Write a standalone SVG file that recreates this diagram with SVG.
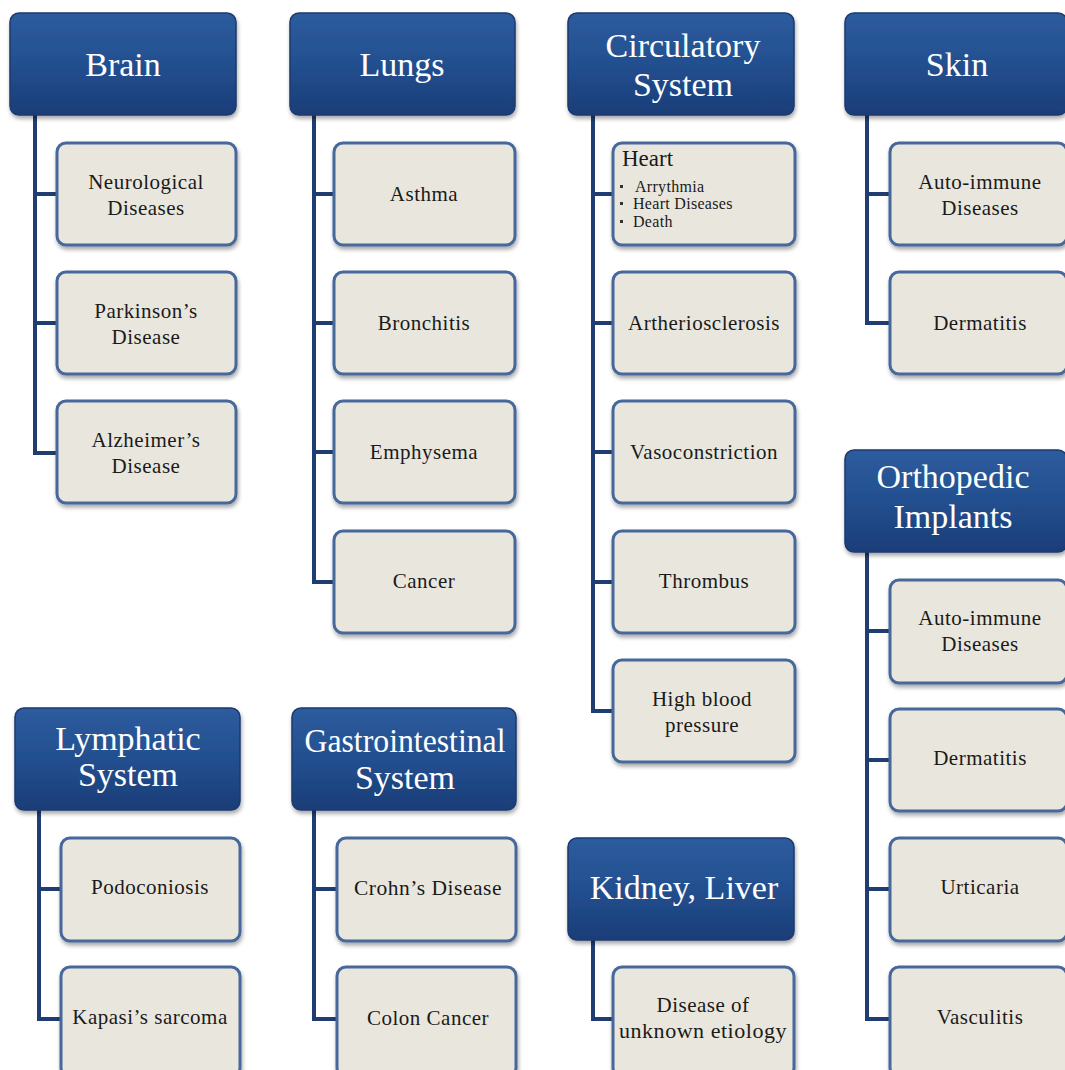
<svg xmlns="http://www.w3.org/2000/svg" width="1065" height="1070" viewBox="0 0 1065 1070">
<defs>
<linearGradient id="hg" x1="0" y1="0" x2="0" y2="1">
<stop offset="0" stop-color="#2d5c9e"/>
<stop offset="0.5" stop-color="#234f8f"/>
<stop offset="1" stop-color="#1a3d78"/>
</linearGradient>
<filter id="sh" x="-10%" y="-10%" width="125%" height="130%">
<feGaussianBlur in="SourceAlpha" stdDeviation="2"/>
<feOffset dx="1" dy="3" result="b"/>
<feComponentTransfer><feFuncA type="linear" slope="0.35"/></feComponentTransfer>
<feMerge><feMergeNode/><feMergeNode in="SourceGraphic"/></feMerge>
</filter>
</defs>
<style>
.h{fill:url(#hg);stroke:#1b3a6e;stroke-width:1.5;filter:url(#sh)}
.c{fill:#e9e7dd;stroke:#46679a;stroke-width:3;filter:url(#sh)}
.ht{font-family:"Liberation Serif",serif;font-size:34px;fill:#ffffff;text-anchor:middle}
.ct{font-family:"Liberation Serif",serif;font-size:21px;letter-spacing:0.5px;fill:#1a1a1a;text-anchor:middle}
.hs{font-family:"Liberation Serif",serif;font-size:23px;fill:#1a1a1a}
.bs{font-family:"Liberation Serif",serif;font-size:16px;letter-spacing:0.3px;fill:#1a1a1a}
.ln{fill:none;stroke:#1f3d70;stroke-width:4;stroke-linejoin:miter}
</style>
<rect width="1065" height="1070" fill="#ffffff"/>
<g id="connectors">
<path class="ln" d="M35 115 V453 H57 M35 194 H57 M35 323 H57"/>
<path class="ln" d="M314 115 V582 H334 M314 194 H334 M314 323 H334 M314 452 H334"/>
<path class="ln" d="M593 115 V711 H613 M593 194 H613 M593 323 H613 M593 452 H613 M593 582 H613"/>
<path class="ln" d="M867 115 V323 H890 M867 194 H890"/>
<path class="ln" d="M867 552 V1019 H890 M867 631 H890 M867 760 H890 M867 889 H890"/>
<path class="ln" d="M39 810 V1019 H61 M39 889 H61"/>
<path class="ln" d="M314 810 V1019 H337 M314 889 H337"/>
<path class="ln" d="M593 940 V1019 H613"/>
</g>
<g id="brain"><rect class="h" x="10" y="13" width="226" height="102" rx="9"/><text class="ht" x="123" y="76">Brain</text></g>
<g id="neuro"><rect class="c" x="57" y="143" width="179" height="102" rx="9"/><text class="ct" x="146" y="189">Neurological</text><text class="ct" x="146" y="215">Diseases</text></g>
<g id="parkinson"><rect class="c" x="57" y="272" width="179" height="102" rx="9"/><text class="ct" x="146" y="318">Parkinson’s</text><text class="ct" x="146" y="344">Disease</text></g>
<g id="alzheimer"><rect class="c" x="57" y="401" width="179" height="102" rx="9"/><text class="ct" x="146" y="447">Alzheimer’s</text><text class="ct" x="146" y="473">Disease</text></g>

<g id="lungs"><rect class="h" x="290" y="13" width="225" height="102" rx="9"/><text class="ht" x="402" y="76">Lungs</text></g>
<g id="asthma"><rect class="c" x="334" y="143" width="181" height="102" rx="9"/><text class="ct" x="424" y="201">Asthma</text></g>
<g id="bronchitis"><rect class="c" x="334" y="272" width="181" height="102" rx="9"/><text class="ct" x="424" y="330">Bronchitis</text></g>
<g id="emphysema"><rect class="c" x="334" y="401" width="181" height="102" rx="9"/><text class="ct" x="424" y="459">Emphysema</text></g>
<g id="cancer"><rect class="c" x="334" y="531" width="181" height="102" rx="9"/><text class="ct" x="424" y="588">Cancer</text></g>

<g id="circulatory"><rect class="h" x="568" y="13" width="226" height="102" rx="9"/><text class="ht" x="683" y="57">Circulatory</text><text class="ht" x="683" y="96">System</text></g>
<g id="heart"><rect class="c" x="613" y="143" width="182" height="102" rx="9"/><text class="hs" x="622" y="166">Heart</text>
<rect x="620" y="185" width="3" height="3" fill="#333"/><text class="bs" x="635" y="192">Arrythmia</text>
<rect x="620" y="202" width="3" height="3" fill="#333"/><text class="bs" x="633" y="209">Heart Diseases</text>
<rect x="620" y="220" width="3" height="3" fill="#333"/><text class="bs" x="633" y="227">Death</text></g>
<g id="arth"><rect class="c" x="613" y="272" width="182" height="102" rx="9"/><text class="ct" x="704" y="330">Artheriosclerosis</text></g>
<g id="vaso"><rect class="c" x="613" y="401" width="182" height="102" rx="9"/><text class="ct" x="704" y="459">Vasoconstriction</text></g>
<g id="thrombus"><rect class="c" x="613" y="531" width="182" height="102" rx="9"/><text class="ct" x="704" y="588">Thrombus</text></g>
<g id="hbp"><rect class="c" x="613" y="660" width="182" height="102" rx="9"/><text class="ct" x="702" y="706">High blood</text><text class="ct" x="702" y="732">pressure</text></g>

<g id="skin"><rect class="h" x="845" y="13" width="222" height="102" rx="9"/><text class="ht" x="957" y="76">Skin</text></g>
<g id="skin-auto"><rect class="c" x="890" y="143" width="177" height="102" rx="9"/><text class="ct" x="980" y="189">Auto-immune</text><text class="ct" x="980" y="215">Diseases</text></g>
<g id="skin-derm"><rect class="c" x="890" y="272" width="177" height="102" rx="9"/><text class="ct" x="980" y="330">Dermatitis</text></g>

<g id="ortho"><rect class="h" x="845" y="450" width="222" height="102" rx="9"/><text class="ht" x="953" y="488">Orthopedic</text><text class="ht" x="953" y="528">Implants</text></g>
<g id="ortho-auto"><rect class="c" x="890" y="580" width="177" height="103" rx="9"/><text class="ct" x="980" y="625">Auto-immune</text><text class="ct" x="980" y="651">Diseases</text></g>
<g id="ortho-derm"><rect class="c" x="890" y="709" width="177" height="102" rx="9"/><text class="ct" x="980" y="765">Dermatitis</text></g>
<g id="urticaria"><rect class="c" x="890" y="838" width="177" height="103" rx="9"/><text class="ct" x="980" y="894">Urticaria</text></g>
<g id="vasculitis"><rect class="c" x="890" y="967" width="177" height="110" rx="9"/><text class="ct" x="980" y="1024">Vasculitis</text></g>

<g id="lymphatic"><rect class="h" x="15" y="708" width="225" height="102" rx="9"/><text class="ht" x="128" y="750">Lymphatic</text><text class="ht" x="128" y="786">System</text></g>
<g id="podo"><rect class="c" x="61" y="838" width="179" height="103" rx="9"/><text class="ct" x="150" y="894">Podoconiosis</text></g>
<g id="kapasi"><rect class="c" x="61" y="967" width="179" height="110" rx="9"/><text class="ct" x="150" y="1024">Kapasi’s sarcoma</text></g>

<g id="gastro"><rect class="h" x="292" y="708" width="224" height="102" rx="9"/><text class="ht" x="405" y="752" textLength="201" lengthAdjust="spacingAndGlyphs">Gastrointestinal</text><text class="ht" x="405" y="789">System</text></g>
<g id="crohn"><rect class="c" x="337" y="838" width="179" height="103" rx="9"/><text class="ct" x="428" y="895" textLength="148" lengthAdjust="spacingAndGlyphs">Crohn’s Disease</text></g>
<g id="colon"><rect class="c" x="337" y="967" width="179" height="110" rx="9"/><text class="ct" x="428" y="1025">Colon Cancer</text></g>

<g id="kidney"><rect class="h" x="568" y="838" width="226" height="102" rx="9"/><text class="ht" x="684" y="899">Kidney, Liver</text></g>
<g id="unknown"><rect class="c" x="613" y="967" width="181" height="110" rx="9"/><text class="ct" x="703" y="1012">Disease of</text><text class="ct" x="703" y="1038" textLength="168" lengthAdjust="spacingAndGlyphs">unknown etiology</text></g>
</svg>
